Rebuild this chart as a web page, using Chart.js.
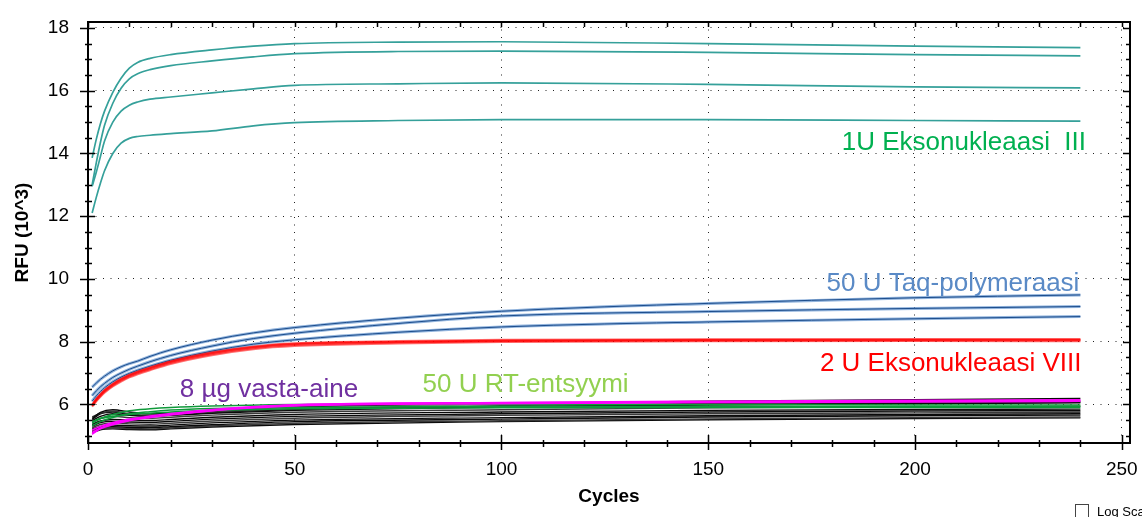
<!DOCTYPE html>
<html>
<head>
<meta charset="utf-8">
<title>RFU / Cycles</title>
<script src="https://cdn.jsdelivr.net/npm/chart.js@4.4.0/dist/chart.umd.min.js"></script>
<style>
  html, body { margin: 0; padding: 0; background: #fff; overflow: hidden; }
  #wrap { position: relative; width: 1142px; height: 517px; }
  #logBox { position: absolute; left: 1075px; top: 504px; width: 12px; height: 12px; border: 1px solid #444; background: #fff; }
  #logText { position: absolute; left: 1097px; top: 505px; font: 13px "Liberation Sans", Arial, sans-serif; line-height: 13px; white-space: nowrap; color: #000; }
</style>
</head>
<body>
<div id="wrap">
  <canvas id="myChart" width="1142" height="517"></canvas>
  <div id="logBox"></div>
  <div id="logText">Log Scale</div>
</div>
<script>
// cycle numbers where the curves are sampled
const cycles = [1, 2, 3, 4, 6, 8, 10, 12, 15, 20, 30, 40, 50, 75, 100, 150, 200, 240];
const baseCycles = [1, 3, 6, 10, 15, 20, 30, 50, 100, 150, 200, 240];

const xTicks = [0, 50, 100, 150, 200, 250];
const yTicks = [6, 8, 10, 12, 14, 16, 18];

// RFU (10^3) values, one row per well
const exoIII = [
  [13.86, 14.45, 14.95, 15.35, 15.95, 16.40, 16.72, 16.90, 17.03, 17.15, 17.30, 17.42, 17.50, 17.55, 17.56, 17.50, 17.42, 17.37],
  [13.00, 13.70, 14.35, 14.90, 15.60, 16.08, 16.38, 16.54, 16.67, 16.80, 16.95, 17.08, 17.18, 17.25, 17.26, 17.22, 17.15, 17.11],
  [12.95, 13.40, 13.90, 14.40, 15.00, 15.35, 15.54, 15.64, 15.73, 15.80, 15.93, 16.06, 16.17, 16.22, 16.25, 16.20, 16.12, 16.09],
  [12.10, 12.60, 13.05, 13.45, 14.00, 14.33, 14.48, 14.54, 14.58, 14.63, 14.72, 14.88, 14.98, 15.05, 15.08, 15.08, 15.05, 15.03]
];

const taq = [
  [6.55, 6.68, 6.80, 6.90, 7.07, 7.20, 7.30, 7.38, 7.53, 7.74, 8.05, 8.28, 8.45, 8.75, 8.97, 9.22, 9.40, 9.49],
  [6.28, 6.43, 6.56, 6.67, 6.86, 7.00, 7.12, 7.22, 7.36, 7.56, 7.86, 8.10, 8.27, 8.58, 8.82, 8.96, 9.06, 9.12],
  [6.10, 6.27, 6.41, 6.53, 6.72, 6.87, 6.99, 7.09, 7.22, 7.41, 7.70, 7.92, 8.06, 8.30, 8.47, 8.63, 8.73, 8.80]
];

const exoVIII = [
  [5.97, 6.15, 6.30, 6.43, 6.63, 6.79, 6.92, 7.02, 7.15, 7.35, 7.63, 7.82, 7.92, 7.99, 8.03, 8.05, 8.06, 8.06],
  [5.95, 6.12, 6.27, 6.40, 6.60, 6.76, 6.89, 6.99, 7.12, 7.32, 7.60, 7.79, 7.89, 7.97, 8.01, 8.03, 8.04, 8.04],
  [5.99, 6.18, 6.33, 6.46, 6.66, 6.82, 6.95, 7.05, 7.18, 7.38, 7.66, 7.85, 7.95, 8.02, 8.06, 8.08, 8.08, 8.08],
  [5.93, 6.10, 6.24, 6.37, 6.57, 6.73, 6.86, 6.96, 7.09, 7.29, 7.57, 7.76, 7.86, 7.94, 7.99, 8.01, 8.02, 8.01],
  [5.98, 6.16, 6.31, 6.44, 6.64, 6.80, 6.93, 7.03, 7.16, 7.36, 7.64, 7.83, 7.93, 8.00, 8.04, 8.06, 8.07, 8.07]
];

// background wells (sampled at baseCycles)
const blanks = [
  [5.55, 5.75, 5.83, 5.76, 5.70, 5.72, 5.80, 5.92, 6.02, 6.10, 6.15, 6.19],
  [5.60, 5.72, 5.78, 5.70, 5.66, 5.69, 5.76, 5.86, 5.96, 6.03, 6.07, 6.10],
  [5.52, 5.70, 5.76, 5.68, 5.63, 5.66, 5.74, 5.84, 5.93, 6.00, 6.04, 6.07],
  [5.48, 5.62, 5.70, 5.65, 5.62, 5.65, 5.72, 5.81, 5.91, 5.98, 6.02, 6.05],
  [5.42, 5.55, 5.62, 5.58, 5.56, 5.59, 5.66, 5.75, 5.83, 5.89, 5.92, 5.94],
  [5.36, 5.47, 5.52, 5.50, 5.49, 5.52, 5.59, 5.68, 5.76, 5.81, 5.84, 5.85],
  [5.31, 5.42, 5.46, 5.44, 5.43, 5.46, 5.53, 5.62, 5.70, 5.76, 5.79, 5.80],
  [5.26, 5.36, 5.40, 5.38, 5.37, 5.40, 5.47, 5.56, 5.65, 5.70, 5.73, 5.75],
  [5.21, 5.30, 5.34, 5.32, 5.31, 5.34, 5.41, 5.50, 5.58, 5.64, 5.68, 5.70],
  [5.17, 5.26, 5.29, 5.27, 5.26, 5.29, 5.35, 5.45, 5.53, 5.60, 5.64, 5.66],
  [5.13, 5.22, 5.25, 5.23, 5.22, 5.25, 5.31, 5.40, 5.48, 5.54, 5.58, 5.60],
  [5.10, 5.19, 5.22, 5.20, 5.19, 5.22, 5.28, 5.36, 5.45, 5.51, 5.55, 5.57]
];

const rtEnzyme = [
  [5.40, 5.55, 5.68, 5.80, 5.86, 5.90, 5.95, 6.00, 6.00, 5.99, 5.98, 5.98],
  [5.32, 5.45, 5.58, 5.70, 5.77, 5.82, 5.87, 5.91, 5.93, 5.93, 5.93, 5.93],
  [5.45, 5.55, 5.62, 5.68, 5.72, 5.76, 5.81, 5.86, 5.89, 5.90, 5.90, 5.90]
];

const antibody = [
  [5.05, 5.22, 5.35, 5.48, 5.58, 5.66, 5.80, 5.98, 6.06, 6.10, 6.13, 6.15],
  [5.10, 5.25, 5.38, 5.50, 5.60, 5.68, 5.80, 5.95, 6.02, 6.06, 6.08, 6.10],
  [5.18, 5.30, 5.42, 5.53, 5.63, 5.71, 5.84, 5.99, 6.05, 6.08, 6.10, 6.12]
];

// text placed inside the plot, anchored at (cycle, RFU)
const notes = [
  { text: '1U Eksonukleaasi  III', color: '#00b050', cycle: 182.3, rfu: 14.11 },
  { text: '50 U Taq-polymeraasi', color: '#5a8ac6', cycle: 178.6, rfu: 9.60 },
  { text: '2 U Eksonukleaasi VIII', color: '#ff0000', cycle: 177.0, rfu: 7.08 },
  { text: '8 µg vasta-aine', color: '#7030a0', cycle: 22.2, rfu: 6.24 },
  { text: '50 U RT-entsyymi', color: '#92d050', cycle: 80.9, rfu: 6.41 }
];

const FONT = '"Liberation Sans", Arial, sans-serif';

function toPoints(xs, ys) {
  return ys.map((y, i) => ({ x: xs[i], y: y }));
}

function lineSet(xs, ys, color, width, order) {
  return {
    data: toPoints(xs, ys),
    borderColor: color,
    borderWidth: width,
    order: order,
    pointRadius: 0,
    fill: false,
    cubicInterpolationMode: 'monotone'
  };
}

const datasets = [];
antibody.forEach(r => datasets.push(lineSet(baseCycles, r, '#ff00ff', 1.6, 1)));
rtEnzyme.forEach(r => datasets.push(lineSet(baseCycles, r, '#0f9a3a', 1.5, 2)));
blanks.forEach((r, i) => datasets.push(lineSet(baseCycles, r, i % 3 === 1 ? '#3a3a3a' : '#0a0a0a', 1.4, 3)));
exoVIII.forEach(r => datasets.push(lineSet(cycles, r, 'rgba(255,0,0,0.55)', 2, 4)));
// taq curves: light halo under a thin dark core
taq.forEach(r => {
  datasets.push(lineSet(cycles, r, '#1c4d8c', 1, 5));
  datasets.push(lineSet(cycles, r, 'rgba(110,155,210,0.75)', 3, 6));
});
exoIII.forEach(r => datasets.push(lineSet(cycles, r, '#35a09a', 1.7, 7)));

// plot frame with minor/major tick marks on all four sides
const frameTicks = {
  id: 'frameTicks',
  afterDraw(chart) {
    const { ctx, chartArea: a, scales: { x, y } } = chart;
    ctx.save();
    ctx.strokeStyle = '#000';
    ctx.lineWidth = 2;
    ctx.beginPath();
    ctx.moveTo(a.left, a.top);
    ctx.lineTo(a.left, a.bottom);
    ctx.lineTo(a.right, a.bottom);
    ctx.lineTo(a.right, a.top);
    ctx.closePath();
    ctx.stroke();

    ctx.lineWidth = 1.5;
    ctx.beginPath();
    for (let c = 0; c <= x.max; c += 10) {
      const px = Math.round(x.getPixelForValue(c)) + 0.5;
      const major = c % 50 === 0;
      ctx.moveTo(px, a.bottom - (major ? 8 : 3));
      ctx.lineTo(px, a.bottom + (major ? 7 : 4));
      ctx.moveTo(px, a.top);
      ctx.lineTo(px, a.top + 5);
    }
    for (let v = Math.ceil(y.min * 2) / 2; v <= y.max; v += 0.5) {
      const py = Math.round(y.getPixelForValue(v)) + 0.5;
      const major = v % 2 === 0;
      ctx.moveTo(a.left - (major ? 8 : 3), py);
      ctx.lineTo(a.left + (major ? 7 : 4), py);
      ctx.moveTo(a.right, py);
      ctx.lineTo(a.right - (major ? 7 : 4), py);
    }
    ctx.stroke();
    ctx.restore();
  },
  afterDatasetsDraw(chart) {
    const { ctx, scales: { x, y } } = chart;
    ctx.save();
    ctx.font = '26px ' + FONT;
    ctx.textAlign = 'left';
    ctx.textBaseline = 'alphabetic';
    notes.forEach(n => {
      ctx.fillStyle = n.color;
      ctx.fillText(n.text, x.getPixelForValue(n.cycle), y.getPixelForValue(n.rfu));
    });
    ctx.restore();
  }
};

const gridStyle = { color: '#222', lineWidth: 1, drawTicks: false };

new Chart(document.getElementById('myChart'), {
  type: 'line',
  data: { datasets: datasets },
  options: {
    responsive: false,
    animation: false,
    events: [],
    layout: { padding: { top: 22, right: 12, bottom: 0, left: 0 } },
    plugins: { legend: { display: false }, tooltip: { enabled: false } },
    scales: {
      x: {
        type: 'linear',
        min: 0,
        max: 252,
        afterBuildTicks: s => { s.ticks = xTicks.map(v => ({ value: v })); },
        afterFit: s => { s.height = 74; s.paddingLeft = 0; s.paddingRight = 0; },
        grid: gridStyle,
        border: { display: false, dash: [1, 6.5] },
        ticks: { color: '#000', font: { family: FONT, size: 19 }, padding: 15, maxRotation: 0, autoSkip: false },
        title: { display: true, text: 'Cycles', color: '#000', font: { family: FONT, size: 19, weight: 'bold' }, padding: { top: 0, bottom: 8.6 } }
      },
      y: {
        min: 4.77,
        max: 18.19,
        afterBuildTicks: s => { s.ticks = yTicks.map(v => ({ value: v })); },
        afterFit: s => { s.width = 88; s.paddingTop = 0; s.paddingBottom = 0; },
        grid: gridStyle,
        border: { display: false, dash: [1, 6.5] },
        ticks: { color: '#000', font: { family: FONT, size: 19 }, padding: 19 },
        title: { display: true, text: 'RFU (10^3)', color: '#000', font: { family: FONT, size: 19, weight: 'bold' }, padding: { top: 11.6, bottom: 0 } }
      }
    }
  },
  plugins: [frameTicks]
});
</script>
</body>
</html>
